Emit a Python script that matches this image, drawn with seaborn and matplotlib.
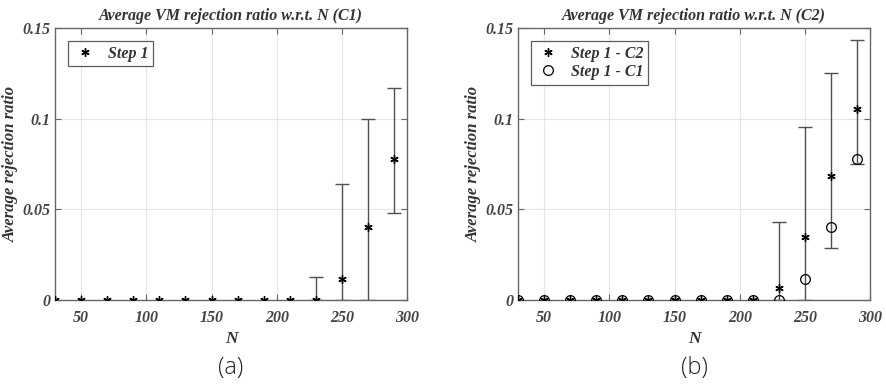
import numpy as np
import pandas as pd
import matplotlib
matplotlib.use('Agg')
import matplotlib.pyplot as plt
import seaborn as sns

# data
N = [30, 50, 70, 90, 110, 130, 150, 170, 190, 210, 230, 250, 270, 290]
c1_mean = [0, 0, 0, 0, 0, 0, 0, 0, 0, 0, 0.0, 0.0114, 0.0401, 0.0777]
c1_low = [0, 0, 0, 0, 0, 0, 0, 0, 0, 0, 0.0, 0.0, 0.0, 0.0478]
c1_high = [0, 0, 0, 0, 0, 0, 0, 0, 0, 0, 0.0125, 0.0638, 0.100, 0.1167]
c2_mean = [0, 0, 0, 0, 0, 0, 0, 0, 0, 0, 0.0064, 0.0349, 0.0684, 0.1051]
c2_low = [0, 0, 0, 0, 0, 0, 0, 0, 0, 0, 0.0, 0.0, 0.0285, 0.0748]
c2_high = [0, 0, 0, 0, 0, 0, 0, 0, 0, 0, 0.0428, 0.0955, 0.125, 0.1433]

titles = ['Average VM rejection ratio w.r.t. N (C1)', 'Average VM rejection ratio w.r.t. N (C2)']
captions = ['(a)', '(b)']
yticks = [0, 0.05, 0.1, 0.15]
yticklabels = ['0', '0.05', '0.1', '0.15']
xticks = [50, 100, 150, 200, 250, 300]

sns.set_style('white')
plt.rcParams['font.family'] = ['Liberation Serif', 'DejaVu Serif']

df1 = pd.DataFrame({'N': N, 'ratio': c1_mean, 'lo': c1_low, 'hi': c1_high})
df2 = pd.DataFrame({'N': N, 'ratio': c2_mean, 'lo': c2_low, 'hi': c2_high})

fig = plt.figure(figsize=(8.87, 3.84), dpi=100)
ax1 = fig.add_axes([0.062, 0.219, 0.397, 0.708])
ax2 = fig.add_axes([0.584, 0.219, 0.397, 0.708])

asterisk = (6, 2, 0)
txt = dict(style='italic', weight='bold', color='#333333')
ebar = dict(fmt='none', ecolor='#505050', elinewidth=1.0, capsize=5, capthick=1.0, zorder=2)

# (a)
m = df1['hi'] > 0
ax1.errorbar(df1['N'][m], df1['ratio'][m],
             yerr=[df1['ratio'][m] - df1['lo'][m], df1['hi'][m] - df1['ratio'][m]], **ebar)
sns.lineplot(data=df1, x='N', y='ratio', ax=ax1, linestyle='', marker=asterisk,
             markersize=6, color='k', mec='k', mew=1.0, label='Step 1', errorbar=None, zorder=3)

# (b)
m = df2['hi'] > 0
ax2.errorbar(df2['N'][m], df2['ratio'][m],
             yerr=[df2['ratio'][m] - df2['lo'][m], df2['hi'][m] - df2['ratio'][m]], **ebar)
sns.lineplot(data=df2, x='N', y='ratio', ax=ax2, linestyle='', marker=asterisk,
             markersize=6, color='k', mec='k', mew=1.0, label='Step 1 - C2', errorbar=None, zorder=3)
sns.lineplot(data=df1, x='N', y='ratio', ax=ax2, linestyle='', marker='o',
             markersize=7, color='k', mfc='none', mec='k', mew=0.9, label='Step 1 - C1', errorbar=None, zorder=3)

for ax, title, cap in zip([ax1, ax2], titles, captions):
    ax.set_xlim(30, 300)
    ax.set_ylim(0, 0.15)
    ax.set_xticks(xticks)
    ax.set_yticks(yticks)
    ax.set_yticklabels(yticklabels, **txt, fontsize=11.5)
    ax.set_xticklabels([str(t) for t in xticks], **txt, fontsize=11.5)
    ax.grid(True, color='#e6e6e6', linewidth=0.8)
    ax.set_axisbelow(True)
    for s in ax.spines.values():
        s.set_visible(True)
        s.set_color('#666666')
        s.set_linewidth(1.0)
    ax.tick_params(axis='x', pad=7)
    ax.tick_params(direction='in', length=4, color='#666666', top=True, right=True,
                   bottom=True, left=True, labelcolor='#444444')
    ax.tick_params(axis='y', pad=3)
    ax.set_title(title, **txt, fontsize=11.5, pad=6)
    ax.set_xlabel('N', **txt, fontsize=12.5, labelpad=4)
    ax.set_ylabel('Average rejection ratio', **txt, fontsize=12, labelpad=3)
    leg = ax.legend(loc='upper left', frameon=True, fancybox=False, edgecolor='#333333',
                    prop=dict(family='Liberation Serif', style='italic', weight='bold', size=11.5),
                    handlelength=1.6, borderpad=0.3, labelspacing=0.15, handletextpad=0.6,
                    borderaxespad=0.8)
    leg.get_frame().set_linewidth(0.9)
    for t in leg.get_texts():
        t.set_color('#333333')
    ax.text(0.5, -0.25, cap, transform=ax.transAxes, ha='center', va='center',
            fontsize=17, family='Open Sans', weight='light', color='#222222')

fig.savefig('out.png', dpi=100)
